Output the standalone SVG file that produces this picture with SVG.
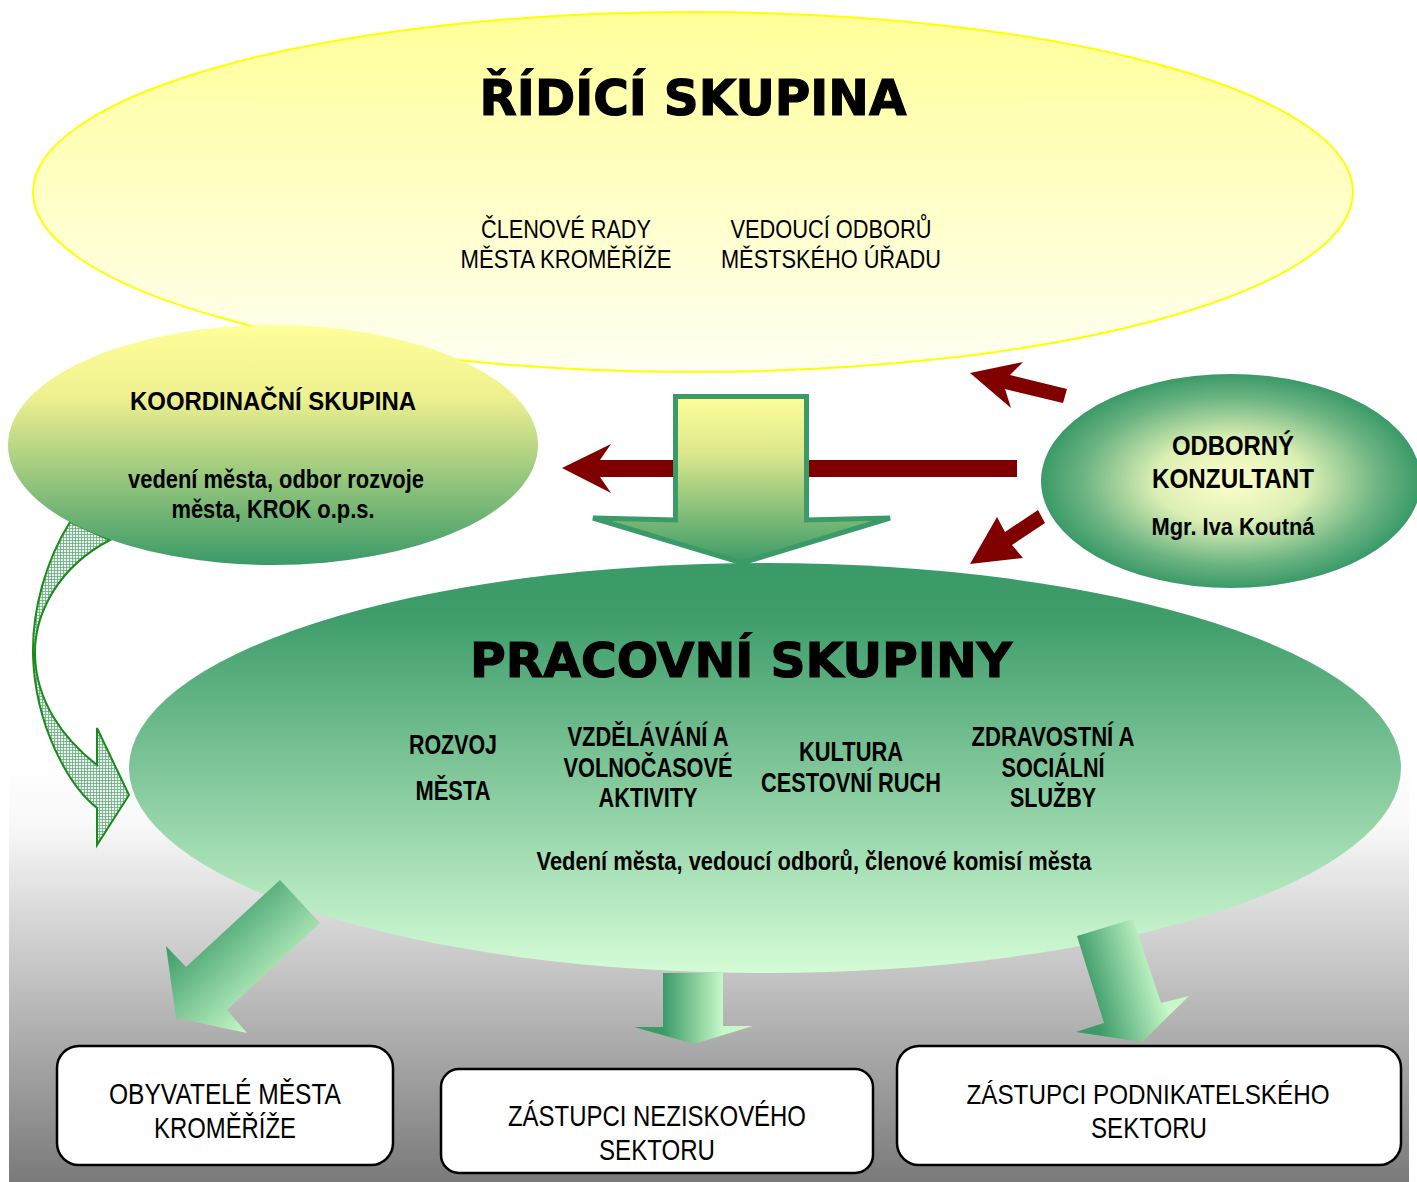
<svg xmlns="http://www.w3.org/2000/svg" width="1417" height="1182" viewBox="0 0 1417 1182">
<style>
.t{font-family:"Liberation Sans",Arial,sans-serif;fill:#000;text-anchor:middle}
.b{font-weight:bold}
.h{font-family:"DejaVu Sans","Liberation Sans",sans-serif;font-weight:bold;fill:#000;stroke:#000;stroke-width:1.2;text-anchor:middle}
.red{fill:#800000}
.box{fill:#fff;stroke:#000;stroke-width:2.5}
</style>
<defs>
<linearGradient id="gBg" x1="0" y1="763" x2="0" y2="1182" gradientUnits="userSpaceOnUse">
<stop offset="0" stop-color="#ffffff"/><stop offset="0.15" stop-color="#f8f8f8"/><stop offset="1" stop-color="#7a7a7a"/>
</linearGradient>
<linearGradient id="gTop" x1="0" y1="0" x2="0" y2="1">
<stop offset="0" stop-color="#ffff99"/><stop offset="1" stop-color="#fffff2"/>
</linearGradient>
<linearGradient id="gKoord" x1="0" y1="0" x2="0" y2="1">
<stop offset="0" stop-color="#ffff99"/><stop offset="0.3" stop-color="#eef090"/><stop offset="1" stop-color="#3a9a68"/>
</linearGradient>
<linearGradient id="gPrac" x1="0" y1="0" x2="0" y2="1">
<stop offset="0" stop-color="#3a9a68"/><stop offset="0.12" stop-color="#3d9c6a"/><stop offset="1" stop-color="#d4fcd6"/>
</linearGradient>
<radialGradient id="gOdb" cx="0.5" cy="0.5" r="0.5">
<stop offset="0" stop-color="#ffffcc"/><stop offset="0.4" stop-color="#dcefb4"/><stop offset="0.78" stop-color="#6cb482"/><stop offset="1" stop-color="#3a9a68"/>
</radialGradient>
<linearGradient id="gDown" x1="0" y1="394" x2="0" y2="563" gradientUnits="userSpaceOnUse">
<stop offset="0" stop-color="#ffff99"/><stop offset="0.35" stop-color="#dce88c"/><stop offset="1" stop-color="#3a9a68"/>
</linearGradient>
<linearGradient id="gA1" x1="166" y1="946" x2="247" y2="1033" gradientUnits="userSpaceOnUse">
<stop offset="0" stop-color="#3a9a68"/><stop offset="1" stop-color="#c8f8c8"/>
</linearGradient>
<linearGradient id="gA2" x1="663" y1="0" x2="723" y2="0" gradientUnits="userSpaceOnUse">
<stop offset="0" stop-color="#3a9a68"/><stop offset="1" stop-color="#c8f8c8"/>
</linearGradient>
<linearGradient id="gA3" x1="1090" y1="1000" x2="1160" y2="980" gradientUnits="userSpaceOnUse">
<stop offset="0" stop-color="#3a9a68"/><stop offset="1" stop-color="#c8f8c8"/>
</linearGradient>
<pattern id="hatch" width="3" height="3" patternUnits="userSpaceOnUse">
<rect width="3" height="3" fill="#e8f2ea"/>
<path d="M0 0.5H3M0.5 0V3" stroke="#3f9060" stroke-width="0.8" opacity="0.75"/>
</pattern>
</defs>

<rect id="background" x="9" y="763" width="1400" height="419" fill="url(#gBg)"/>

<g id="ridici-skupina">
<ellipse cx="693" cy="192" rx="660" ry="180" fill="url(#gTop)" stroke="#ffff00" stroke-width="2"/>
<text class="h" x="693" y="115" font-size="50" textLength="427" lengthAdjust="spacingAndGlyphs">ŘÍDÍCÍ SKUPINA</text>
<text class="t" x="566" y="238" font-size="25" textLength="170" lengthAdjust="spacingAndGlyphs">ČLENOVÉ RADY</text>
<text class="t" x="566" y="268" font-size="25" textLength="211" lengthAdjust="spacingAndGlyphs">MĚSTA KROMĚŘÍŽE</text>
<text class="t" x="831" y="238" font-size="25" textLength="201" lengthAdjust="spacingAndGlyphs">VEDOUCÍ ODBORŮ</text>
<text class="t" x="831" y="268" font-size="25" textLength="220" lengthAdjust="spacingAndGlyphs">MĚSTSKÉHO ÚŘADU</text>
</g>

<g id="pracovni-skupiny">
<ellipse cx="765" cy="768" rx="636" ry="205" fill="url(#gPrac)"/>
<text class="h" x="741" y="677" font-size="48" textLength="542" lengthAdjust="spacingAndGlyphs">PRACOVNÍ SKUPINY</text>
<text class="t b" x="453" y="754" font-size="27" textLength="88" lengthAdjust="spacingAndGlyphs">ROZVOJ</text>
<text class="t b" x="453" y="800" font-size="27" textLength="75" lengthAdjust="spacingAndGlyphs">MĚSTA</text>
<text class="t b" x="648" y="746" font-size="27" textLength="161" lengthAdjust="spacingAndGlyphs">VZDĚLÁVÁNÍ A</text>
<text class="t b" x="648" y="777" font-size="27" textLength="169" lengthAdjust="spacingAndGlyphs">VOLNOČASOVÉ</text>
<text class="t b" x="648" y="807" font-size="27" textLength="99" lengthAdjust="spacingAndGlyphs">AKTIVITY</text>
<text class="t b" x="851" y="761" font-size="27" textLength="104" lengthAdjust="spacingAndGlyphs">KULTURA</text>
<text class="t b" x="851" y="792" font-size="27" textLength="180" lengthAdjust="spacingAndGlyphs">CESTOVNÍ RUCH</text>
<text class="t b" x="1053" y="746" font-size="27" textLength="163" lengthAdjust="spacingAndGlyphs">ZDRAVOSTNÍ A</text>
<text class="t b" x="1053" y="777" font-size="27" textLength="103" lengthAdjust="spacingAndGlyphs">SOCIÁLNÍ</text>
<text class="t b" x="1053" y="807" font-size="27" textLength="86" lengthAdjust="spacingAndGlyphs">SLUŽBY</text>
<text class="t b" x="814" y="870" font-size="25" textLength="555" lengthAdjust="spacingAndGlyphs">Vedení města, vedoucí odborů, členové komisí města</text>
</g>

<g id="odborny-konzultant">
<ellipse cx="1231" cy="481" rx="190" ry="107" fill="url(#gOdb)"/>
<text class="t b" x="1233" y="455" font-size="28" textLength="122" lengthAdjust="spacingAndGlyphs">ODBORNÝ</text>
<text class="t b" x="1233" y="488" font-size="28" textLength="162" lengthAdjust="spacingAndGlyphs">KONZULTANT</text>
<text class="t b" x="1233" y="535" font-size="24" textLength="163" lengthAdjust="spacingAndGlyphs">Mgr. Iva Koutná</text>
</g>

<g id="connectors">
<path d="M70,522 C46,560 32,610 33,655 C35,725 68,785 97,808 L97,845 L129,795 L97,728 L97,765 C62,738 36,700 35,655 C34,612 60,566 110,540 Z" fill="url(#hatch)" stroke="#1a8a1a" stroke-width="2" stroke-linejoin="miter"/>
<polygon class="red" points="1017,460 600,460 611,444 562,468 611,493 600,477 1017,477"/>
<polygon class="red" points="1067,389 1010,375 1023,362 970,373 1011,408 1005,389 1063,403"/>
<polygon class="red" points="1038,510 1005,532 997,517 970,564 1023,558 1012,545 1045,523"/>
<polygon points="675.5,396.5 806.5,396.5 806.5,520 890,518 742,563 593,518 675.5,520" fill="url(#gDown)" stroke="#3a9a68" stroke-width="5" stroke-linejoin="miter"/>
<polygon points="280,880 320,923 227,1010 247,1033 176,1018 166,946 186,967" fill="url(#gA1)"/>
<polygon points="663,973 723,973 723,1026 753,1026 694,1044 634,1027 663,1027" fill="url(#gA2)"/>
<polygon points="1077,936 1133,919 1161,1003 1189,996 1142,1042 1076,1032 1104,1023" fill="url(#gA3)"/>
</g>

<g id="koordinacni-skupina">
<ellipse cx="273" cy="445" rx="265" ry="120" fill="url(#gKoord)"/>
<text class="t b" x="273" y="410" font-size="26" textLength="286" lengthAdjust="spacingAndGlyphs">KOORDINAČNÍ SKUPINA</text>
<text class="t b" x="276" y="488" font-size="25" textLength="296" lengthAdjust="spacingAndGlyphs">vedení města, odbor rozvoje</text>
<text class="t b" x="273" y="518" font-size="25" textLength="203" lengthAdjust="spacingAndGlyphs">města, KROK o.p.s.</text>
</g>

<g id="obyvatele">
<rect class="box" x="57" y="1046" width="336" height="119" rx="22"/>
<text class="t" x="225" y="1104" font-size="29" textLength="232" lengthAdjust="spacingAndGlyphs">OBYVATELÉ MĚSTA</text>
<text class="t" x="225" y="1138" font-size="29" textLength="142" lengthAdjust="spacingAndGlyphs">KROMĚŘÍŽE</text>
</g>

<g id="neziskovy-sektor">
<rect class="box" x="441" y="1069" width="432" height="104" rx="18"/>
<text class="t" x="657" y="1126" font-size="29" textLength="298" lengthAdjust="spacingAndGlyphs">ZÁSTUPCI NEZISKOVÉHO</text>
<text class="t" x="657" y="1160" font-size="29" textLength="116" lengthAdjust="spacingAndGlyphs">SEKTORU</text>
</g>

<g id="podnikatelsky-sektor">
<rect class="box" x="897" y="1046" width="504" height="119" rx="22"/>
<text class="t" x="1148" y="1104" font-size="28" textLength="363" lengthAdjust="spacingAndGlyphs">ZÁSTUPCI PODNIKATELSKÉHO</text>
<text class="t" x="1149" y="1138" font-size="29" textLength="116" lengthAdjust="spacingAndGlyphs">SEKTORU</text>
</g>
</svg>
